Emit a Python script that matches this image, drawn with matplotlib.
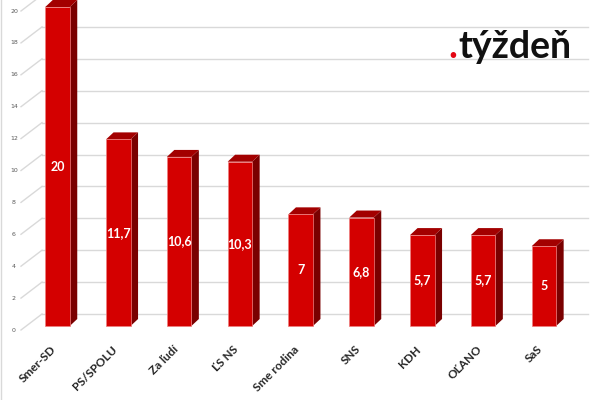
import matplotlib
matplotlib.use("Agg")
from matplotlib import pyplot as plt
from matplotlib.patches import Polygon, Rectangle

#------------------------------------------#
# Data
#------------------------------------------#

parties = ["Smer-SD", "PS/SPOLU", "Za ľudí", "ĽS NS", "Sme rodina",
           "SNS", "KDH", "OĽANO", "SaS"]
values = [20, 11.7, 10.6, 10.3, 7, 6.8, 5.7, 5.7, 5]
value_labels = ["20", "11,7", "10,6", "10,3", "7", "6,8", "5,7", "5,7", "5"]
ticks = [0, 2, 4, 6, 8, 10, 12, 14, 16, 18, 20]

#------------------------------------------#
# Layout (pixels -> data units)
#------------------------------------------#

W, H = 600, 400
x0_px, step_px = 57.5, 60.8      # first bar centre, bar spacing
y0_px, unit_px = 326, 15.95      # floor of bars, px per value unit
bar_w = 24.5 / step_px
dx, dy = 7.5 / step_px, 7.0 / unit_px           # 3d depth of bars
wall_dy = 12.0 / unit_px                         # back wall above front floor
wall_x0, wall_x1 = (42 - x0_px) / step_px, (588 - x0_px) / step_px
lab_x, lab_dy = (14 - x0_px) / step_px, -4.0 / unit_px
diag_x = (21 - x0_px) / step_px

front = "#d40000"
side = "#7a0000"
top = "#a30000"
grid = "#d9d9d9"

fig = plt.figure(figsize=(W / 100, H / 100), dpi=100)
ax = fig.add_axes([0, 0, 1, 1])
ax.set_xlim(-x0_px / step_px, (W - x0_px) / step_px)
ax.set_ylim((y0_px - H) / unit_px, y0_px / unit_px)
ax.axis("off")

# Back wall gridlines + floor diagonals + tick labels
for t in ticks:
    ax.plot([wall_x0, wall_x1], [t + wall_dy, t + wall_dy], color=grid, lw=1, zorder=1)
    ax.plot([diag_x, wall_x0], [t + lab_dy, t + wall_dy], color=grid, lw=1, zorder=1)
    ax.text(lab_x, t + lab_dy, str(t), fontsize=4.5, color="#595959",
            ha="center", va="center", family="DejaVu Sans")

# Bars
for i, v in enumerate(values):
    l, r = i - bar_w / 2, i + bar_w / 2
    ax.add_patch(Polygon([(r, 0), (r + dx, dy), (r + dx, v + dy), (r, v)],
                         closed=True, fc=side, ec="none", zorder=3))
    ax.add_patch(Polygon([(l, v), (l + dx, v + dy), (r + dx, v + dy), (r, v)],
                         closed=True, fc=top, ec="none", zorder=3))
    ax.add_patch(Rectangle((l, 0), bar_w, v, fc=front, ec="#f08080", lw=0.5, zorder=4))
    ax.text(i, v / 2, value_labels[i], color="white", fontsize=9, fontweight="bold",
            ha="center", va="center", family="Lato", zorder=5)
    ax.text(i - 0.05, -1.35, parties[i], rotation=45, rotation_mode="anchor",
            ha="right", va="center", fontsize=8.5, fontweight="bold",
            color="#262626", family="Lato")

# Logo
base_y = (y0_px - 58) / unit_px
ax.text((457 - x0_px) / step_px, base_y, ".", color="#e30613",
        fontsize=27, fontweight="bold", family="Lato", ha="right", va="baseline")
ax.text((458 - x0_px) / step_px, base_y, "týždeň", color="#111111",
        fontsize=27, fontweight="bold", family="Lato", ha="left", va="baseline")

# left border
fig.add_artist(plt.Line2D([0.002, 0.002], [0, 1], color="#d9d9d9", lw=1))

fig.savefig("out.png", dpi=100)
